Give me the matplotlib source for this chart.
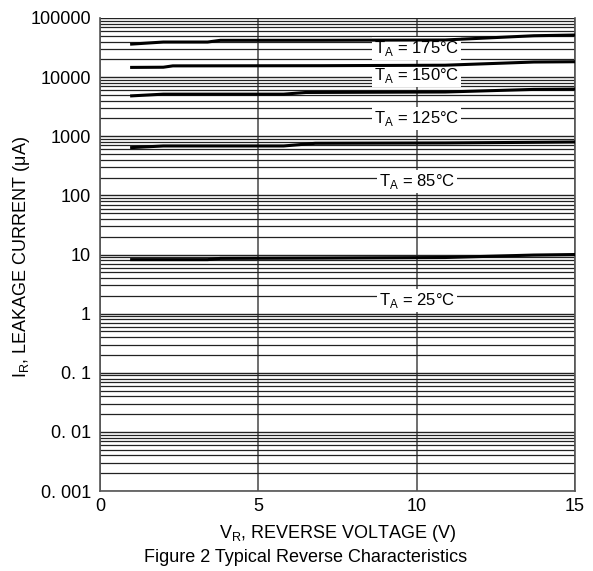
import matplotlib
matplotlib.use("Agg")
import matplotlib.pyplot as plt
from matplotlib.ticker import LogLocator, NullFormatter

plt.rcParams['font.family'] = ['Liberation Sans', 'DejaVu Sans']
plt.rcParams['mathtext.fontset'] = 'custom'
plt.rcParams['mathtext.rm'] = 'Liberation Sans'

# Data (V_R in volts, I_R in microamps)
v_175 = [1.0, 2.0, 3.4, 3.8, 7.0, 10.9, 13.7, 15.0]
i_175 = [36200, 39200, 39200, 41900, 42000, 42500, 50100, 51500]

v_150 = [1.0, 2.0, 2.3, 7.0, 10.9, 13.7, 15.0]
i_150 = [14600, 14700, 15500, 15600, 15900, 18000, 18200]

v_125 = [1.0, 2.0, 5.8, 6.5, 10.9, 13.7, 15.0]
i_125 = [4820, 5150, 5150, 5500, 5600, 6200, 6270]

v_85 = [1.0, 2.0, 5.8, 6.8, 10.9, 13.7, 15.0]
i_85 = [643, 685, 685, 760, 770, 790, 800]

v_25 = [1.0, 3.4, 3.8, 7.0, 10.9, 13.7, 15.0]
i_25 = [8.2, 8.2, 8.6, 8.7, 8.9, 9.8, 10.0]

series = [(v_175, i_175), (v_150, i_150), (v_125, i_125), (v_85, i_85), (v_25, i_25)]

labels = ['175', '150', '125', '85', '25']
label_y = [30200, 10450, 2030, 175, 1.69]

x_ticks = [0, 5, 10, 15]
y_ticks = [0.001, 0.01, 0.1, 1, 10, 100, 1000, 10000, 100000]
y_ticklabels = ['0. 001', '0. 01', '0. 1', '1', '10', '100', '1000', '10000', '100000']

fig = plt.figure(figsize=(5.93, 5.71), dpi=100)
ax = fig.add_axes([0.1686, 0.140, 0.801, 0.8285])
ax.set_yscale('log')
ax.set_xlim(0, 15)
ax.set_ylim(0.001, 100000)

ax.set_xticks(x_ticks)
ax.set_xticklabels([str(t) for t in x_ticks])
ax.set_yticks(y_ticks)
ax.set_yticklabels(y_ticklabels)
ax.yaxis.set_minor_locator(LogLocator(base=10, subs=range(2, 10), numticks=100))
ax.yaxis.set_minor_formatter(NullFormatter())
ax.tick_params(axis='both', which='both', length=0, labelsize=13)
ax.tick_params(axis='y', pad=6.5)
ax.tick_params(axis='x', pad=5)

# grid
ax.yaxis.grid(True, which='major', color='#222222', lw=1.0)
ax.yaxis.grid(True, which='minor', color='#222222', lw=0.9)
ax.xaxis.grid(True, which='major', color='#555555', lw=1.2)
ax.set_axisbelow(True)

ax.spines['top'].set_visible(False)
for sp in ['left', 'right', 'bottom']:
    ax.spines[sp].set_color('#555555')
    ax.spines[sp].set_linewidth(1.2)

for v, i in series:
    ax.plot(v, i, color='black', lw=2.2, zorder=3)

for lab, ly in zip(labels, label_y):
    ax.text(10.0, ly, r'T$_\mathregular{A}$ = ' + lab + '°C', ha='center', va='center',
            fontsize=12, zorder=2,
            bbox=dict(facecolor='white', edgecolor='none', pad=1.5))

ax.set_xlabel(r'V$_\mathregular{R}$, REVERSE VOLTAGE (V)', fontsize=13, labelpad=6)
fig.text(22 / 593, 1 - 257 / 571, r'I$_\mathregular{R}$, LEAKAGE CURRENT (μA)', fontsize=13,
         rotation=90, ha='center', va='center')
fig.text(0.515, 1 - 557 / 571, 'Figure 2 Typical Reverse Characteristics', ha='center',
         va='center', fontsize=13)

fig.savefig('out.png', dpi=100, facecolor='white')
